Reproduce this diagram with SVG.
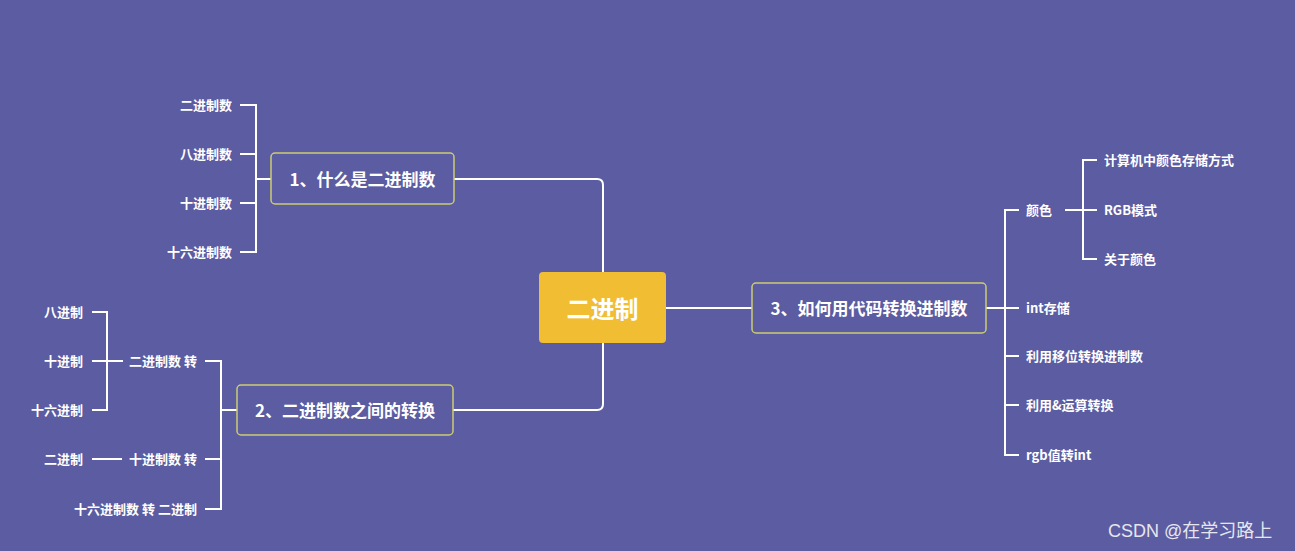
<svg xmlns="http://www.w3.org/2000/svg" width="1295" height="551" viewBox="0 0 1295 551">
<style>
.bg{fill:#5b5ca1}
.ln{fill:none;stroke:#ffffff;stroke-width:2}
.box{fill:#5b5ca1;stroke:#cccc70;stroke-width:1.5}
.t{font-family:"Noto Sans CJK SC","Liberation Sans",sans-serif;font-weight:bold;fill:#ffffff}
.c{font-size:13px;dominant-baseline:central}
.r{text-anchor:end}
.m{font-size:17px;text-anchor:middle;dominant-baseline:central}
.wm{font-family:"Liberation Sans","Noto Sans CJK SC",sans-serif;font-size:18px;fill:#e6e6ee}
</style>
<rect class="bg" x="0" y="0" width="1295" height="551"/>
<g id="connectors">
<path class="ln" d="M454 179 H597 Q603 179 603 185 V272"/>
<path class="ln" d="M453 410 H597 Q603 410 603 404 V343"/>
<path class="ln" d="M666 308 H752"/>
<path class="ln" d="M271 179 H256 M240 105 H256 V252 H240 M240 154 H256 M240 203 H256"/>
<path class="ln" d="M237 410 H221 M205 361 H221 V509 H205 M205 459 H221"/>
<path class="ln" d="M123 361 H107 M92 312 H107 V410 H92 M92 361 H107"/>
<path class="ln" d="M92 459 H122"/>
<path class="ln" d="M986 308 H1005 M1019 210 H1005 V455 H1019 M1005 308 H1019 M1005 356 H1019 M1005 405 H1019"/>
<path class="ln" d="M1065 210 H1083 M1097 160 H1083 V259 H1097 M1083 210 H1097"/>
</g>
<g id="root">
<rect x="539" y="272" width="127" height="71" rx="4" fill="#f0bd33"/>
<text class="t" x="602.5" y="307" font-size="24" text-anchor="middle" dominant-baseline="central">二进制</text>
</g>
<g id="n1">
<rect class="box" x="271" y="153" width="183" height="51" rx="4"/>
<text class="t m" x="362.5" y="178">1、什么是二进制数</text>
</g>
<g id="n2">
<rect class="box" x="237" y="385" width="216" height="50" rx="4"/>
<text class="t m" x="345" y="409">2、二进制数之间的转换</text>
</g>
<g id="n3">
<rect class="box" x="752" y="283" width="234" height="50" rx="4"/>
<text class="t m" x="869" y="307">3、如何用代码转换进制数</text>
</g>
<g id="n1-children">
<text class="t c r" x="232" y="104">二进制数</text>
<text class="t c r" x="232" y="153">八进制数</text>
<text class="t c r" x="232" y="202">十进制数</text>
<text class="t c r" x="232" y="251">十六进制数</text>
</g>
<g id="n2-children">
<text class="t c r" x="197" y="360">二进制数 转</text>
<text class="t c r" x="197" y="458">十进制数 转</text>
<text class="t c r" x="197" y="508">十六进制数 转 二进制</text>
</g>
<g id="n2-grandchildren">
<text class="t c r" x="83" y="311">八进制</text>
<text class="t c r" x="83" y="360">十进制</text>
<text class="t c r" x="83" y="409">十六进制</text>
<text class="t c r" x="83" y="458">二进制</text>
</g>
<g id="n3-children">
<text class="t c" x="1026" y="209">颜色</text>
<text class="t c" x="1026" y="307">int存储</text>
<text class="t c" x="1026" y="355">利用移位转换进制数</text>
<text class="t c" x="1026" y="404">利用&amp;运算转换</text>
<text class="t c" x="1026" y="454">rgb值转int</text>
</g>
<g id="color-children">
<text class="t c" x="1104" y="159">计算机中颜色存储方式</text>
<text class="t c" x="1104" y="209">RGB模式</text>
<text class="t c" x="1104" y="258">关于颜色</text>
</g>
<text class="wm" x="1108" y="537">CSDN @在学习路上</text>
</svg>
